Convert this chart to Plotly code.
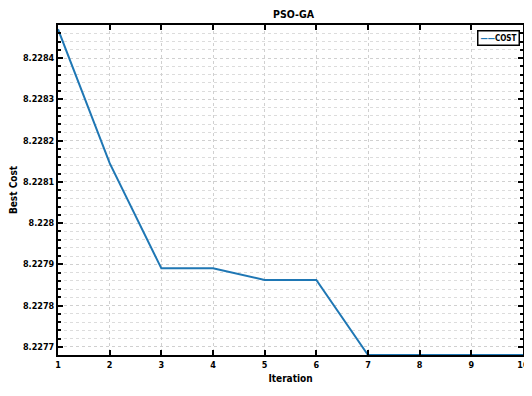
import plotly.graph_objects as go

iterations = [1, 2, 3, 4, 5, 6, 7, 8, 9, 10]
best_cost = [8.22847, 8.228145, 8.22789, 8.22789, 8.227862, 8.227862, 8.22768, 8.22768, 8.22768, 8.22768]
y_tickvals = [8.2277, 8.2278, 8.2279, 8.2280, 8.2281, 8.2282, 8.2283, 8.2284]
y_ticktext = ["8.2277", "8.2278", "8.2279", "8.228", "8.2281", "8.2282", "8.2283", "8.2284"]
x_tickvals = [1, 2, 3, 4, 5, 6, 7, 8, 9, 10]
line_color = "#1f77b4"

fam = "DejaVu Sans Condensed, Liberation Sans, Arial, sans-serif"
font = dict(family=fam, size=10, color="black")

fig = go.Figure()
fig.add_trace(go.Scatter(x=iterations, y=best_cost, mode="lines", name="COST",
                         line=dict(color=line_color, width=2), showlegend=False))

# legend box drawn as an annotation (compact, MATLAB-like)
fig.add_annotation(xref="paper", yref="paper", x=0.993, y=0.985, xanchor="right", yanchor="top",
                   text="<span style='color:%s'><b>——</b></span><b>COST</b>" % line_color,
                   showarrow=False, bordercolor="black", borderwidth=1.5, borderpad=2,
                   bgcolor="white", font=dict(family=fam, size=8, color="black"))

fig.update_layout(
    width=524, height=388,
    margin=dict(l=50, r=9, t=17, b=41, autoexpand=False),
    paper_bgcolor="white", plot_bgcolor="white",
    font=font,
    title=dict(text="<b>PSO-GA</b>", x=0.545, xanchor="center", y=0.985, yanchor="middle",
               font=dict(family=fam, size=10.5, color="black")),
    showlegend=False,
    xaxis=dict(range=[1, 10], tickvals=x_tickvals, ticktext=["<b>%d</b>" % v for v in x_tickvals],
               ticks="inside", ticklen=5,
               tickcolor="black", tickwidth=1.5, automargin=False,
               showline=True, linecolor="black", linewidth=2, mirror="ticks",
               showgrid=True, gridcolor="#d0d0d0", griddash="dot", gridwidth=1,
               zeroline=False, tickfont=dict(size=9),
               title=dict(text="<b>Iteration</b>", standoff=6, font=dict(size=10))),
    yaxis=dict(range=[8.22768, 8.22848], tickvals=y_tickvals, ticktext=["<b>%s</b>" % t for t in y_ticktext],
               ticks="inside", ticklen=5, tickcolor="black", tickwidth=1.5, automargin=False,
               showline=True, linecolor="black", linewidth=2, mirror="ticks",
               showgrid=True, gridcolor="#d0d0d0", griddash="dot", gridwidth=1,
               zeroline=False, tickfont=dict(size=9),
               minor=dict(dtick=0.00002, tick0=8.2277, ticks="inside", ticklen=3,
                          tickcolor="black", showgrid=True, gridcolor="#dcdcdc", griddash="dot"),
               title=dict(text="<b>Best Cost</b>", standoff=9, font=dict(size=10))),
)

fig.write_html("out.html")
